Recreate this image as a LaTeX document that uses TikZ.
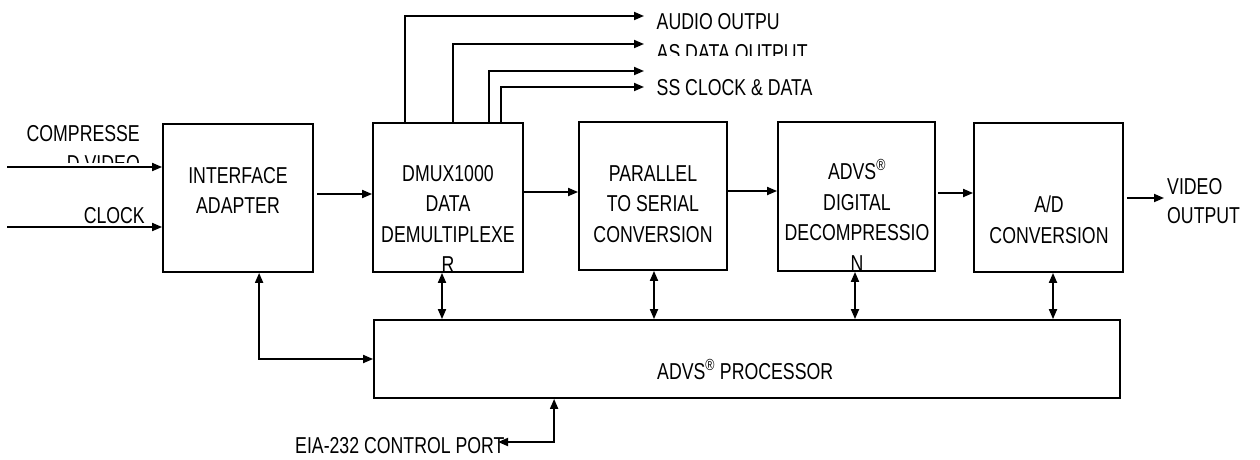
\documentclass[tikz,border=0pt]{standalone}
\usepackage{fontspec}
\setmainfont{Liberation Sans}[FakeStretch=0.77]
\usetikzlibrary{arrows.meta,calc}
\begin{document}
\begin{tikzpicture}[x=1pt,y=-1pt,
  box/.style={draw,line width=1.8pt,inner sep=0pt},
  conn/.style={line width=1.8pt,-{Triangle[length=10pt,width=8pt]}},
  bi/.style={line width=1.8pt,{Triangle[length=10pt,width=8pt]}-{Triangle[length=10pt,width=8pt]}},
  txt/.style={font=\fontsize{23}{30.5}\selectfont,inner sep=0pt,align=center}]
\useasboundingbox (0,0) rectangle (1260,459);
% boxes
\node[box,minimum width=150pt,minimum height=148pt] (ia) at (238,198) {};
\node[box,minimum width=150pt,minimum height=149pt] (dm) at (448,197.5) {};
\node[box,minimum width=148pt,minimum height=148pt] (ps) at (653,196) {};
\node[box,minimum width=157pt,minimum height=149pt] (dd) at (856.5,196.5) {};
\node[box,minimum width=149pt,minimum height=149pt] (ad) at (1048.5,197.5) {};
\node[box,minimum width=746pt,minimum height=78pt] (pr) at (747,359) {};
% box texts
\node[txt,anchor=north] (tia) at (238,167) {INTERFACE\\ADAPTER};
\node[txt,anchor=north] (tdm) at (448,165) {DMUX1000\\DATA\\DEMULTIPLEXE\\R};
\node[txt,anchor=north] (tps) at (653,165) {PARALLEL\\TO SERIAL\\CONVERSION};
\node[txt,anchor=north] (tdd) at (857,159.5) {ADVS\textsuperscript{®}\\DIGITAL\\DECOMPRESSIO\\N};
\node[txt,anchor=north] (tad) at (1049,196) {A/D\\CONVERSION};
\node[txt,anchor=north west] (tpr) at (657,359.5) {ADVS\textsuperscript{®} PROCESSOR};
% side labels
\begin{scope}
\clip (0,0) rectangle (160,162);
\node[txt,align=right,anchor=north east] (tcv) at (140,125) {COMPRESSE\\D VIDEO};
\end{scope}
\node[txt,anchor=north east] (tck) at (145,207) {CLOCK};
\node[txt,align=left,anchor=north west,font=\fontsize{23}{29}\selectfont] (tvo) at (1167,178) {VIDEO\\OUTPUT};
\node[txt,anchor=north west] (tao) at (656.5,13.3) {AUDIO OUTPU};
\begin{scope}
\clip (640,0) rectangle (900,55);
\node[txt,anchor=north west] (tas) at (656.5,44.3) {AS DATA OUTPUT};
\end{scope}
\node[txt,anchor=north west] (tss) at (656.5,79) {SS CLOCK \& DATA};
\node[txt,anchor=north west] (tei) at (295,437.5) {EIA-232 CONTROL PORT};
% inputs
\coordinate (in1) at (7,167);
\coordinate (in2) at (7,227);
\draw[conn] (in1) -- (ia.west |- in1);
\draw[conn] (in2) -- (ia.west |- in2);
% main chain
\draw[conn] ($(ia.east |- 0,194)+(3,0)$) -- (dm.west |- 0,194);
\draw[conn] (dm.east |- 0,192) -- (ps.west |- 0,192);
\draw[conn] (ps.east |- 0,191) -- (dd.west |- 0,191);
\draw[conn] ($(dd.east |- 0,193)+(2,0)$) -- (ad.west |- 0,193);
\coordinate (vo) at (1164,198);
\draw[conn] ($(ad.east |- vo)+(3,0)$) -- (vo);
% top outputs
\coordinate (o1) at (644,16);
\coordinate (o2) at (644,44);
\coordinate (o3) at (644,71);
\coordinate (o4) at (644,87);
\draw[conn] (dm.north -| 405,0) |- (o1);
\draw[conn] (dm.north -| 453,0) |- (o2);
\draw[conn] (dm.north -| 489,0) |- (o3);
\draw[conn] (dm.north -| 501,0) |- (o4);
% bus arrows
\coordinate (b1) at ($(dm.south)+(-6,0)$);
\coordinate (b2) at ($(ps.south)+(1,0)$);
\coordinate (b3) at ($(dd.south)+(-1.5,0)$);
\coordinate (b4) at ($(ad.south)+(4.5,0)$);
\draw[bi] (b1) -- (b1 |- pr.north);
\draw[bi] (b2) -- (b2 |- pr.north);
\draw[bi] (b3) -- (b3 |- pr.north);
\draw[bi] (b4) -- (b4 |- pr.north);
\draw[bi] ($(ia.south west)+(97,0)$) |- (pr.west);
\coordinate (eia) at (498,442);
\draw[bi] (eia) -| ($(pr.south west)+(181,0)$);
\end{tikzpicture}
\end{document}
